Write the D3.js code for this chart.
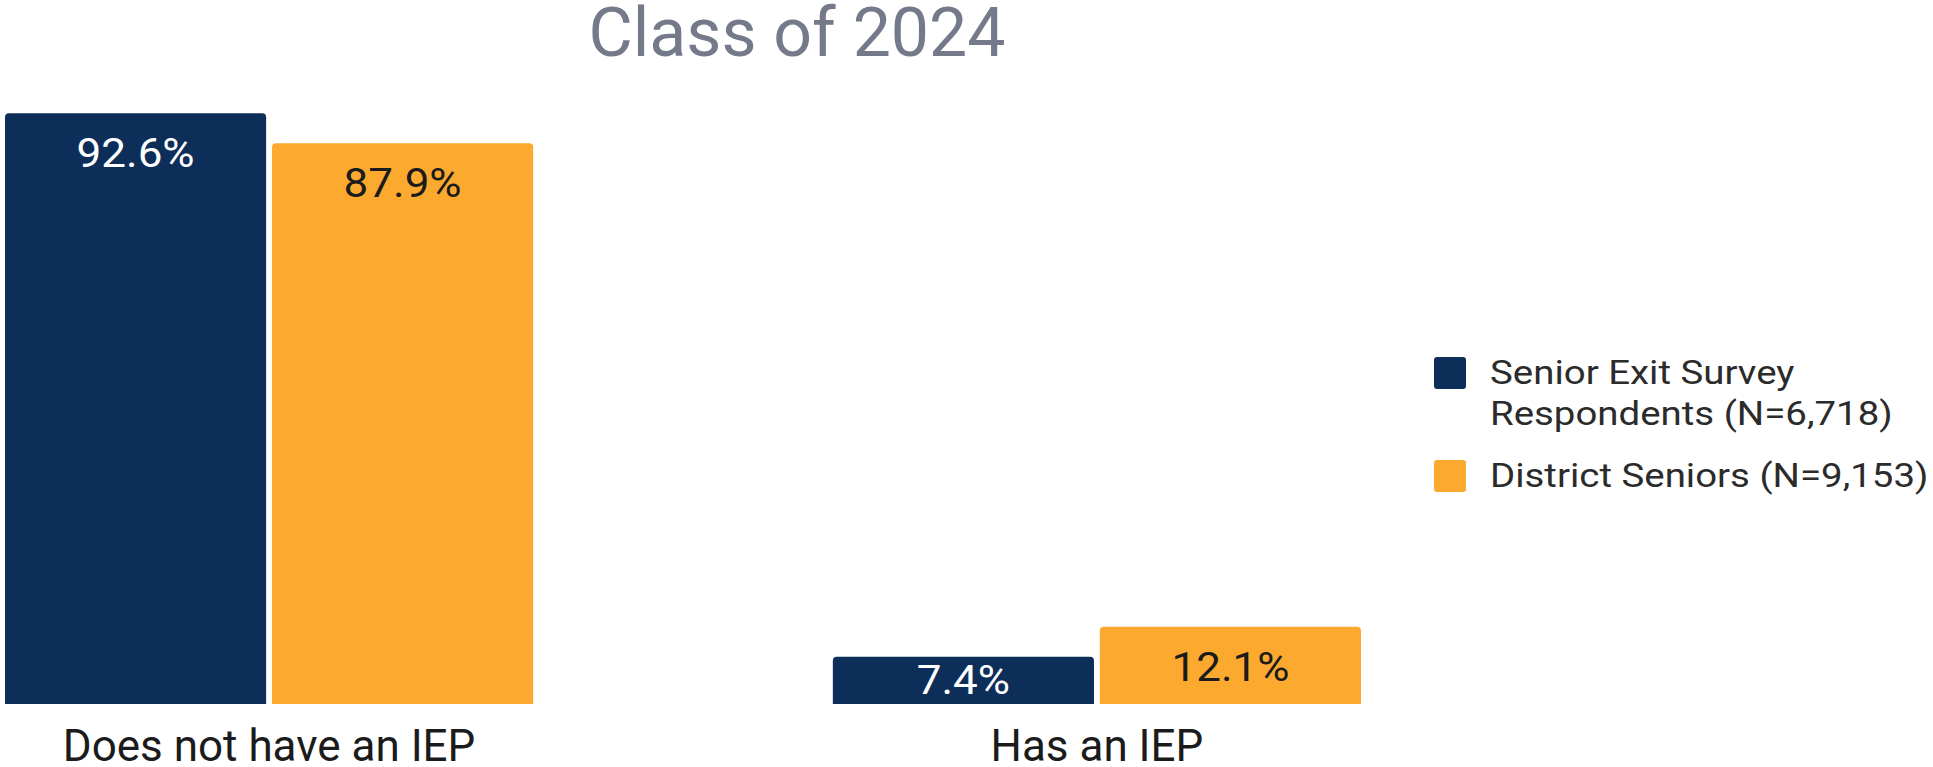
<!DOCTYPE html>
<html>
<head>
<meta charset="utf-8">
<script src="https://cdn.jsdelivr.net/npm/d3@7"></script>
<style>
  html, body { margin: 0; padding: 0; background: #fff; }
  svg { display: block; font-family: Roboto, "Noto Sans", sans-serif; }
</style>
</head>
<body>
<div id="chart"></div>
<script>
"use strict";

// data
var categories = ["Does not have an IEP", "Has an IEP"];
var seriesNames = ["Senior Exit Survey Respondents (N=6,718)", "District Seniors (N=9,153)"];
var legendLines = [["Senior Exit Survey", "Respondents (N=6,718)"], ["District Seniors (N=9,153)"]];
var respondents = [92.6, 7.4];
var districtSeniors = [87.9, 12.1];
var title = "Class of 2024";

var config = {
  width: 1933,
  height: 767,
  colors: ["#0c2e59", "#fca92f"],
  labelColors: ["#ffffff", "#1b1b1b"]
};

var svg = d3.select("#chart")
  .append("svg")
  .attr("width", config.width)
  .attr("height", config.height);

var x0 = d3.scaleBand()
  .domain(categories)
  .range([5, 1361])
  .paddingInner(0.362)
  .paddingOuter(0);

var x1 = d3.scaleBand()
  .domain(d3.range(2))
  .range([0, x0.bandwidth()])
  .paddingInner(0.022);

var y = d3.scaleLinear()
  .domain([0, 100])
  .range([704, 66]);

// rounded top corners only
function barPath(x, y0, w, h, r) {
  r = Math.min(r, h / 2, w / 2);
  return ["M", x, y0 + h,
          "L", x, y0 + r,
          "Q", x, y0, x + r, y0,
          "L", x + w - r, y0,
          "Q", x + w, y0, x + w, y0 + r,
          "L", x + w, y0 + h,
          "Z"].join(" ");
}

var rows = categories.map(function(c, i) {
  return {cat: c, values: [respondents[i], districtSeniors[i]]};
});

svg.append("text")
  .attr("x", 797)
  .attr("y", 56)
  .attr("text-anchor", "middle")
  .attr("fill", "#757a8b")
  .attr("font-size", 68)
  .text(title);

var groups = svg.selectAll(".group")
  .data(rows)
  .enter().append("g")
  .attr("class", "group")
  .attr("transform", function(d) { return "translate(" + x0(d.cat) + ",0)"; });

var bars = groups.selectAll(".bar")
  .data(function(d) { return d.values.map(function(v, s) { return {v: v, s: s}; }); })
  .enter();

bars.append("path")
  .attr("class", "bar")
  .attr("fill", function(d) { return config.colors[d.s]; })
  .attr("d", function(d) {
    return barPath(x1(d.s), y(d.v), x1.bandwidth(), y(0) - y(d.v), 4);
  });

// value labels: near the top, or centred when the bar is short
bars.append("text")
  .attr("transform", function(d) {
    var h = y(0) - y(d.v);
    var ty = h < 70 ? y(d.v) + h / 2 + 14 : y(d.v) + 54;
    return "translate(" + (x1(d.s) + x1.bandwidth() / 2) + "," + ty + ") scale(1.1,1)";
  })
  .attr("text-anchor", "middle")
  .attr("font-size", 40)
  .attr("fill", function(d) { return config.labelColors[d.s]; })
  .text(function(d) { return d.v.toFixed(1) + "%"; });

svg.selectAll(".cat")
  .data(categories)
  .enter().append("text")
  .attr("class", "cat")
  .attr("x", function(d) { return x0(d) + x0.bandwidth() / 2; })
  .attr("y", 761)
  .attr("text-anchor", "middle")
  .attr("font-size", 44)
  .attr("fill", "#1b1b1b")
  .text(function(d) { return d; });

// legend
var legendTop = [357, 460];
var legend = svg.selectAll(".legend")
  .data(seriesNames)
  .enter().append("g")
  .attr("class", "legend")
  .attr("transform", function(d, i) { return "translate(1434," + legendTop[i] + ")"; });

legend.append("rect")
  .attr("width", 32)
  .attr("height", 32)
  .attr("rx", 3)
  .attr("fill", function(d, i) { return config.colors[i]; });

legend.append("text")
  .attr("transform", "translate(56,27) scale(1.13,1)")
  .attr("font-size", 34)
  .attr("fill", "#2b2b2b")
  .selectAll("tspan")
  .data(function(d, i) { return legendLines[i]; })
  .enter().append("tspan")
  .attr("x", 0)
  .attr("dy", function(d, i) { return i === 0 ? 0 : 41; })
  .text(function(d) { return d; });
</script>
</body>
</html>
